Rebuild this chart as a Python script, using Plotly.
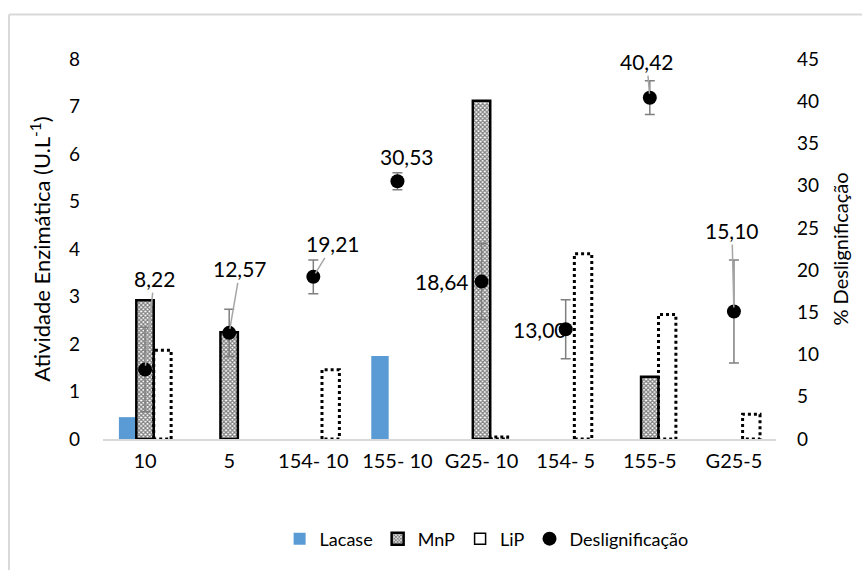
import plotly.graph_objects as go

categories = ["10", "5", "154- 10", "155- 10", "G25- 10", "154- 5", "155-5", "G25-5"]
lacase = [0.46, 0, 0, 1.75, 0, 0, 0, 0]
mnp = [2.92, 2.25, 0, 0, 7.12, 0, 1.31, 0]
lip = [1.87, 0, 1.46, 0, 0.04, 3.90, 2.62, 0.52]
deslig = [8.22, 12.57, 19.21, 30.53, 18.64, 13.00, 40.42, 15.10]
deslig_err = [5.0, 2.8, 2.0, 1.0, 4.5, 3.5, 2.0, 6.1]

# label offsets (pixels) relative to each point, and whether a leader line is shown
label_dx = [9, 11, 20, 10, -40, -26, -3, -2]
label_dy = [-91, -64, -33, -25, 0, 0, -36, -81]
label_leader = [True, True, True, False, False, False, True, True]

FONT = "Lato"
idx = list(range(len(categories)))
W = 0.207
OFF = [-0.311, -0.104, 0.103]


def nz(vals):
    return [v if v else None for v in vals]


fig = go.Figure()

fig.add_trace(go.Bar(
    x=idx, y=nz(lacase), name="Lacase", offset=OFF[0], width=W,
    marker=dict(color="#5B9BD5", line=dict(width=0)),
))
fig.add_trace(go.Bar(
    x=idx, y=nz(mnp), name="MnP", offset=OFF[1], width=W,
    marker=dict(color="white", line=dict(color="black", width=2.5),
                pattern=dict(shape="x", fgcolor="black", bgcolor="white",
                             size=3, solidity=0.65)),
))

# LiP bars drawn as dotted outlines built from the data values
ox, oy = [], []
for i, v in zip(idx, lip):
    if v:
        x0 = i + OFF[2]
        x1 = x0 + W
        ox += [x0, x0, x1, x1, x0, None]
        oy += [0, v, v, 0, 0, None]
fig.add_trace(go.Scatter(
    x=ox, y=oy, mode="lines", showlegend=False, hoverinfo="skip",
    line=dict(color="black", width=3, dash="dot"),
))
fig.add_trace(go.Scatter(
    x=[None], y=[None], mode="markers", name="LiP",
    marker=dict(symbol="square-open", size=11, color="black",
                line=dict(width=1.5, color="black")),
))

fig.add_trace(go.Scatter(
    x=idx, y=deslig, yaxis="y2", mode="markers", name="Deslignificação",
    marker=dict(color="black", size=14),
    error_y=dict(type="data", array=deslig_err, color="#7f7f7f",
                 thickness=1.5, width=5),
))

for i, v, dx, dy, lead in zip(idx, deslig, label_dx, label_dy, label_leader):
    txt = f"{v:.2f}".replace(".", ",")
    if lead:
        fig.add_annotation(x=i, y=v, xref="x", yref="y2", text=txt,
                           showarrow=True, ax=dx, ay=dy, arrowhead=0,
                           arrowwidth=1.5, arrowcolor="#a6a6a6", standoff=4,
                           font=dict(size=21, color="black", family=FONT))
    else:
        fig.add_annotation(x=i, y=v, xref="x", yref="y2", text=txt,
                           showarrow=False, xshift=dx, yshift=-dy,
                           font=dict(size=21, color="black", family=FONT))

# light chart-area border (left and top edges visible in the crop)
fig.add_shape(type="line", xref="paper", yref="paper", x0=-0.1397, x1=-0.1397,
              y0=-0.4, y1=1.1172, line=dict(color="#d9d9d9", width=2))
fig.add_shape(type="line", xref="paper", yref="paper", x0=-0.1397, x1=1.2,
              y0=1.1172, y1=1.1172, line=dict(color="#d9d9d9", width=2))

fig.update_layout(
    width=862, height=570,
    margin=dict(l=103, r=86, t=59, b=127),
    paper_bgcolor="white", plot_bgcolor="white",
    font=dict(family=FONT, size=18, color="black"),
    barmode="overlay",
    showlegend=True,
    legend=dict(orientation="h", x=0.57, xanchor="center", y=-0.263,
                yanchor="middle", font=dict(size=18, family=FONT),
                itemwidth=30, traceorder="normal"),
    xaxis=dict(range=[-0.5, 7.5], tickmode="array", tickvals=idx,
               ticktext=categories, showgrid=False, zeroline=False,
               showline=True, linecolor="#d9d9d9", linewidth=1.5,
               ticks="", ticklabelstandoff=3, tickfont=dict(size=20)),
    yaxis=dict(range=[0, 8], dtick=1, showgrid=False, zeroline=False,
               showline=False, ticks="", ticklabelstandoff=22,
               tickfont=dict(size=19),
               title=dict(text="Atividade Enzimática (U.L<sup>-1</sup>)",
                          font=dict(size=22), standoff=12)),
    yaxis2=dict(range=[0, 45], dtick=5, overlaying="y", side="right",
                showgrid=False, zeroline=False, showline=False, ticks="",
                ticklabelstandoff=20, tickfont=dict(size=19),
                title=dict(text="% Deslignificação", font=dict(size=20),
                           standoff=15)),
)

fig.write_html("out.html")
